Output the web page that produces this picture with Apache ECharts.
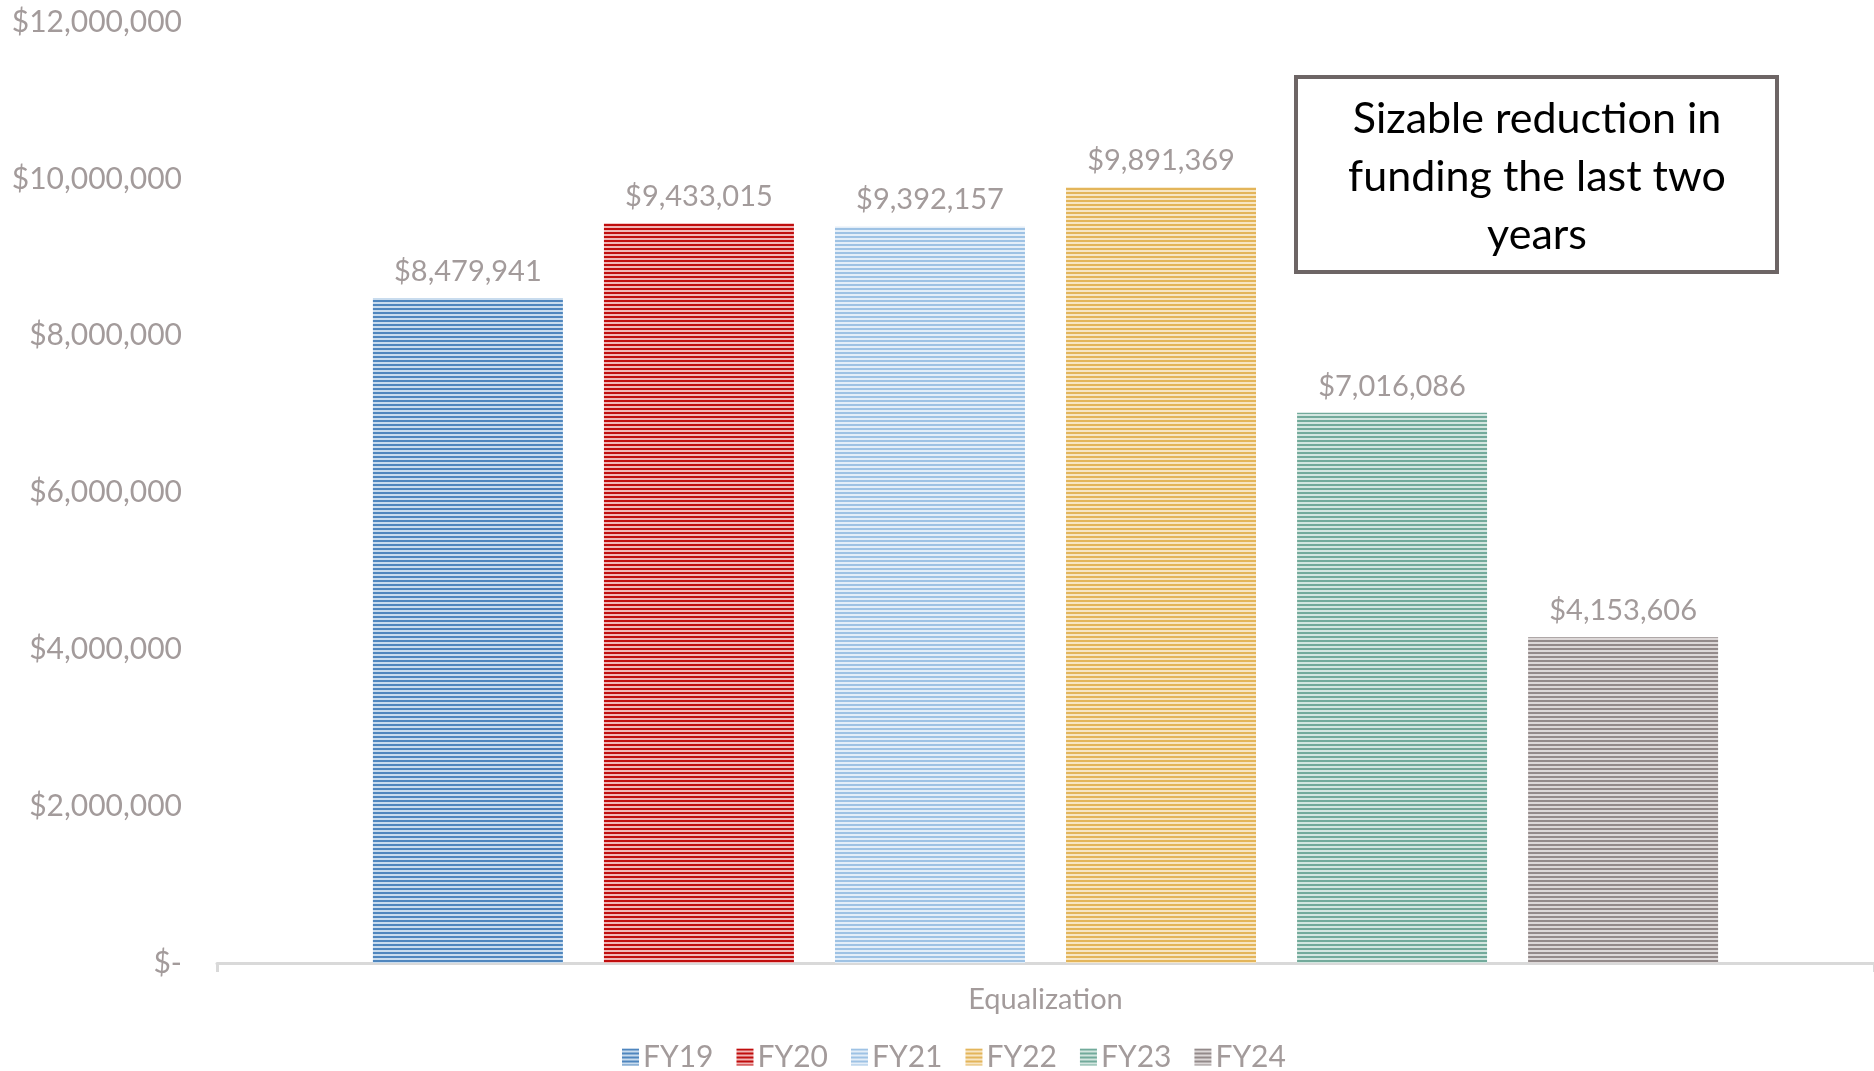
<!DOCTYPE html>
<html>
<head>
<meta charset="utf-8">
<script src="https://cdn.jsdelivr.net/npm/echarts@6/dist/echarts.min.js"></script>
<style>
  html, body { margin: 0; padding: 0; background: #fff; }
  #chart { width: 1874px; height: 1071px; }
</style>
</head>
<body>
<div id="chart"></div>
<script>
// chart data
const categories = ["Equalization"];
const years = ["FY19", "FY20", "FY21", "FY22", "FY23", "FY24"];
const funding = [8479941, 9433015, 9392157, 9891369, 7016086, 4153606];
const yMax = 12000000;
const yStep = 2000000;
const note = "Sizable reduction in\nfunding the last two\nyears";

// stripe colours per year: [dark, light]
const stripeColors = [
  ["#4f86be", "#c9dcee"],
  ["#c00d0d", "#f0b6b6"],
  ["#9ec2e4", "#e4eef8"],
  ["#e3b55a", "#f7e6c4"],
  ["#72aa9b", "#d3e6e0"],
  ["#938a8a", "#ddd8d8"]
];

const labelGray = "#a39b9b";
const fontFamily = "Lato, 'Open Sans', sans-serif";

const makeStripes = (dark, light) => {
  const c = document.createElement("canvas");
  c.width = 4;
  c.height = 4;
  const ctx = c.getContext("2d");
  ctx.fillStyle = light;
  ctx.fillRect(0, 0, 4, 4);
  ctx.fillStyle = dark;
  ctx.fillRect(0, 0, 4, 2);
  return c;
};

const money = v => (v === 0 ? "$-" : "$" + v.toLocaleString("en-US"));

const myChart = echarts.init(document.getElementById("chart"));

const option = {
  animation: false,
  grid: { left: 217, right: 0, top: 22, bottom: 108 },
  legend: {
    bottom: -6,
    left: 617,
    icon: "rect",
    itemWidth: 17,
    itemHeight: 17,
    itemGap: 23,
    textStyle: { color: labelGray, fontSize: 30, fontFamily, padding: [0, 0, 0, -1] },
    data: years
  },
  xAxis: {
    type: "category",
    data: categories,
    axisLine: { lineStyle: { color: "#d9d9d9", width: 3 } },
    axisTick: { show: true, length: 9, lineStyle: { color: "#d9d9d9", width: 3 } },
    axisLabel: { color: labelGray, fontSize: 29, fontFamily, margin: 22 }
  },
  yAxis: {
    type: "value",
    min: 0,
    max: yMax,
    interval: yStep,
    splitLine: { show: false },
    axisLine: { show: false },
    axisTick: { show: false },
    axisLabel: {
      color: labelGray,
      fontSize: 30,
      fontFamily,
      margin: 35,
      formatter: money
    }
  },
  series: years.map((name, i) => ({
    name,
    type: "bar",
    barWidth: 190,
    barGap: "21.6%",
    itemStyle: {
      color: { image: makeStripes(stripeColors[i][0], stripeColors[i][1]), repeat: "repeat" }
    },
    label: {
      show: true,
      position: "top",
      distance: 12,
      color: labelGray,
      fontSize: 29,
      fontFamily,
      formatter: p => money(p.value)
    },
    data: [funding[i]]
  })),
  graphic: [
    {
      type: "group",
      left: 1294,
      top: 75,
      children: [
        {
          type: "rect",
          shape: { x: 0, y: 0, width: 481, height: 195 },
          style: { fill: "#fff", stroke: "#6d6565", lineWidth: 4 }
        },
        {
          type: "text",
          x: 241,
          y: 100,
          style: {
            text: note,
            fill: "#000",
            fontSize: 43,
            fontFamily,
            lineHeight: 58,
            align: "center",
            verticalAlign: "middle"
          }
        }
      ]
    }
  ]
};

myChart.setOption(option);
</script>
</body>
</html>
